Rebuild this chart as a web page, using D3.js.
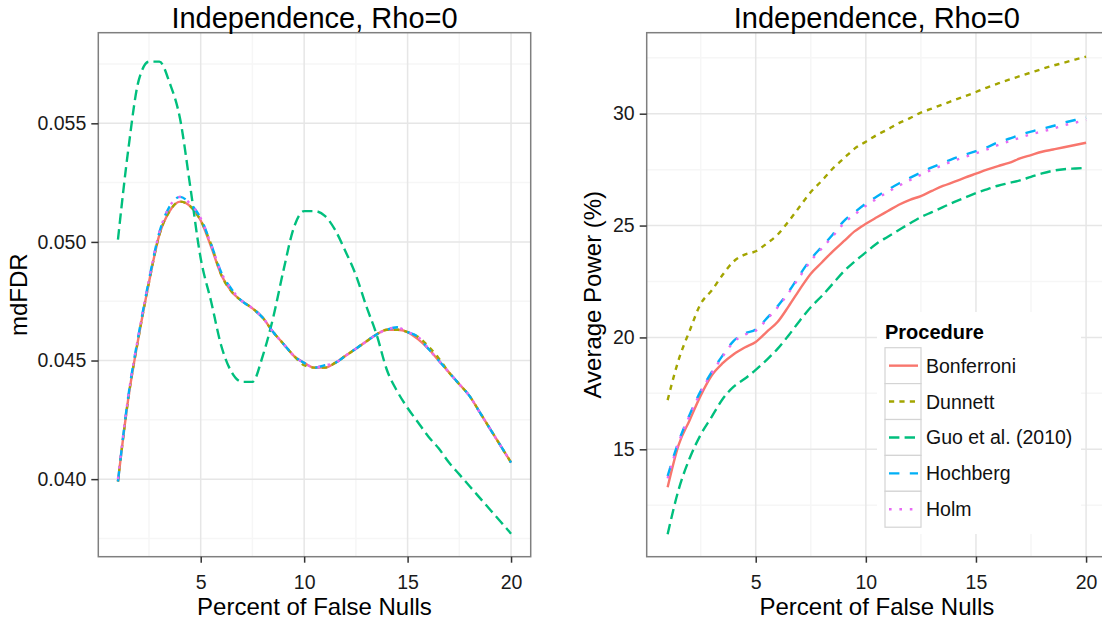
<!DOCTYPE html>
<html>
<head>
<meta charset="utf-8">
<script src="https://cdn.jsdelivr.net/npm/d3@7"></script>
<style>
  html, body { margin: 0; padding: 0; background: #fff; overflow: hidden; }
  svg { display: block; font-family: "Liberation Sans", Arial, sans-serif; }
</style>
</head>
<body>
<svg id="chart" width="1102" height="624"></svg>
<script>
// ---------- DATA ----------
const procedures = ["Bonferroni", "Dunnett", "Guo et al. (2010)", "Hochberg", "Holm"];
const pctFalseNulls = [1,1.5,2,2.5,3,3.5,4,4.5,5,5.5,6,6.5,7,7.5,8,8.5,9,9.5,10,10.5,11,11.5,12,12.5,13,13.5,14,14.5,15,15.5,16,16.5,17,17.5,18,18.5,19,19.5,20];

// Left panel: mdFDR
const mdfdrBonferroni = [0.0399,0.0434,0.0460,0.0483,0.0503,0.0513,0.0517,0.0515,0.0509,0.0498,0.0486,0.0479,0.0475,0.0472,0.0468,0.0462,0.0457,0.0452,0.0449,0.0447,0.0447,0.0449,0.0452,0.0455,0.0458,0.0461,0.0463,0.0463,0.0462,0.0459,0.0455,0.0450,0.0445,0.0440,0.0435,0.0428,0.0421,0.0414,0.0407];
const mdfdrDunnett    = [0.0399,0.0434,0.0460,0.0483,0.0503,0.0513,0.0517,0.0515,0.0509,0.0499,0.0486,0.0479,0.0475,0.0472,0.0468,0.0462,0.0457,0.0452,0.0448,0.0447,0.0447,0.0449,0.0452,0.0455,0.0458,0.0461,0.0463,0.0463,0.0462,0.0460,0.0456,0.0451,0.0445,0.0440,0.0435,0.0428,0.0421,0.0414,0.0407];
const mdfdrGuo        = [0.0501,0.0539,0.0568,0.0576,0.0576,0.0567,0.0552,0.0523,0.0493,0.0475,0.0456,0.0445,0.0441,0.0441,0.0452,0.0468,0.0488,0.0506,0.0513,0.0513,0.0511,0.0505,0.0496,0.0486,0.0473,0.0461,0.0446,0.0437,0.0430,0.0424,0.0418,0.0413,0.0407,0.0402,0.0397,0.0392,0.0387,0.0382,0.0377];
const mdfdrHochberg   = [0.0399,0.0435,0.0461,0.0484,0.0504,0.0515,0.0519,0.0516,0.0510,0.0499,0.0487,0.0480,0.0475,0.0472,0.0468,0.0462,0.0457,0.0452,0.0449,0.0447,0.0448,0.0449,0.0452,0.0455,0.0458,0.0461,0.0463,0.0464,0.0462,0.0460,0.0455,0.0450,0.0445,0.0440,0.0435,0.0428,0.0421,0.0414,0.0407];
const mdfdrHolm       = [0.0400,0.0435,0.0461,0.0484,0.0504,0.0515,0.0519,0.0516,0.0510,0.0499,0.0487,0.0480,0.0475,0.0472,0.0468,0.0462,0.0457,0.0452,0.0449,0.0447,0.0448,0.0449,0.0452,0.0455,0.0458,0.0461,0.0463,0.0464,0.0462,0.0460,0.0455,0.0450,0.0445,0.0440,0.0435,0.0428,0.0421,0.0414,0.0407];

// Right panel: Average Power (%)
const powerBonferroni = [13.3,15.2,16.3,17.4,18.3,18.85,19.25,19.55,19.8,20.25,20.7,21.4,22.15,22.85,23.35,23.85,24.3,24.75,25.08,25.37,25.65,25.93,26.15,26.32,26.55,26.77,26.95,27.14,27.32,27.5,27.66,27.8,28.0,28.15,28.3,28.4,28.5,28.6,28.7];
const powerDunnett    = [17.2,19.0,20.3,21.5,22.1,22.8,23.4,23.7,23.85,24.2,24.6,25.2,25.85,26.5,27.0,27.55,28.0,28.45,28.75,29.05,29.3,29.58,29.8,30.05,30.23,30.42,30.6,30.78,30.97,31.17,31.35,31.52,31.68,31.84,32.0,32.15,32.28,32.42,32.55];
const powerGuo        = [11.2,13.2,14.6,15.65,16.45,17.25,17.8,18.15,18.55,19.0,19.5,20.1,20.75,21.35,21.85,22.4,22.95,23.4,23.8,24.2,24.5,24.8,25.1,25.38,25.6,25.82,26.05,26.25,26.45,26.62,26.78,26.9,27.02,27.18,27.33,27.45,27.52,27.55,27.58];
const powerHochberg   = [13.8,15.35,16.55,17.6,18.45,19.2,19.85,20.18,20.35,20.85,21.4,22.05,22.8,23.5,24.05,24.6,25.2,25.6,25.98,26.3,26.6,26.88,27.13,27.37,27.6,27.8,28.0,28.17,28.33,28.5,28.72,28.88,29.05,29.2,29.33,29.45,29.6,29.72,29.82];
const powerHolm       = [13.7,15.3,16.5,17.55,18.4,19.15,19.8,20.12,20.3,20.8,21.35,22.0,22.72,23.42,23.98,24.52,25.1,25.5,25.88,26.2,26.5,26.78,27.03,27.27,27.5,27.7,27.9,28.07,28.23,28.4,28.6,28.76,28.93,29.08,29.2,29.33,29.48,29.6,29.72];

const xTicks = [5, 10, 15, 20];
const xMinor = [2.5, 7.5, 12.5, 17.5];
const leftYTicks = [0.040, 0.045, 0.050, 0.055];
const leftYMinor = [0.0375, 0.0425, 0.0475, 0.0525, 0.0575];
const rightYTicks = [15, 20, 25, 30];
const rightYMinor = [12.5, 17.5, 22.5, 27.5, 32.5];

const plotTitle = "Independence, Rho=0";
const xTitle = "Percent of False Nulls";
const leftYTitle = "mdFDR";
const rightYTitle = "Average Power (%)";
const legendTitle = "Procedure";

// ---------- STYLE ----------
const colors = d3.scaleOrdinal().domain(procedures)
  .range(["#F8766D", "#A3A500", "#00BF7D", "#00B0F6", "#E76BF3"]);
const dashes = d3.scaleOrdinal().domain(procedures)
  .range(["none", "5.2,5.2", "10.4,5.2", "10.4,10.4", "2.6,7.8"]);
const lineW = 2.4;
const tickFont = 19.5, titleFont = 29, axisTitleFont = 24;

const svg = d3.select("#chart");

function drawPanel(cfg) {
  const x = d3.scaleLinear().domain([0.05, 20.95]).range([cfg.x0, cfg.x1]);
  const y = d3.scaleLinear().domain(cfg.yDomain).range([cfg.y1, cfg.y0]);
  const g = svg.append("g");

  const clipId = "clip" + cfg.id;
  svg.append("clipPath").attr("id", clipId).append("rect")
    .attr("x", cfg.x0).attr("y", cfg.y0).attr("width", cfg.x1 - cfg.x0).attr("height", cfg.y1 - cfg.y0);

  const grid = g.append("g").attr("clip-path", `url(#${clipId})`);
  grid.selectAll(".vmin").data(xMinor).join("line")
    .attr("x1", d => x(d)).attr("x2", d => x(d)).attr("y1", cfg.y0).attr("y2", cfg.y1)
    .attr("stroke", "#f6f6f6").attr("stroke-width", 1.5);
  grid.selectAll(".hmin").data(cfg.yMinor).join("line")
    .attr("x1", cfg.x0).attr("x2", cfg.x1).attr("y1", d => y(d)).attr("y2", d => y(d))
    .attr("stroke", "#f6f6f6").attr("stroke-width", 1.5);
  grid.selectAll(".vmaj").data(xTicks).join("line")
    .attr("x1", d => x(d)).attr("x2", d => x(d)).attr("y1", cfg.y0).attr("y2", cfg.y1)
    .attr("stroke", "#e6e6e6").attr("stroke-width", 1.5);
  grid.selectAll(".hmaj").data(cfg.yTicks).join("line")
    .attr("x1", cfg.x0).attr("x2", cfg.x1).attr("y1", d => y(d)).attr("y2", d => y(d))
    .attr("stroke", "#e6e6e6").attr("stroke-width", 1.5);

  const line = d3.line().x(d => x(d[0])).y(d => y(d[1])).curve(d3.curveMonotoneX);
  const lines = g.append("g").attr("clip-path", `url(#${clipId})`);
  procedures.forEach((p, i) => {
    const pts = pctFalseNulls.map((v, j) => [v, cfg.series[i][j]]);
    lines.append("path").attr("d", line(pts))
      .attr("fill", "none").attr("stroke", colors(p)).attr("stroke-width", lineW)
      .attr("stroke-dasharray", dashes(p)).attr("stroke-linecap", "butt");
  });

  if (cfg.legend) {
    const lg = g.append("g");
    lg.append("rect").attr("x", 877).attr("y", 312).attr("width", 204).attr("height", 222)
      .attr("fill", "#fff");
    lg.append("text").attr("x", 885).attr("y", 339).text(legendTitle)
      .attr("font-weight", "bold").attr("font-size", 20).attr("fill", "#000");
    const rowH = 35.9, top = 347.7;
    procedures.forEach((p, i) => {
      const ry = top + i * rowH;
      lg.append("rect").attr("x", 885).attr("y", ry).attr("width", 36).attr("height", rowH)
        .attr("fill", "#fff").attr("stroke", "#d4d4d4").attr("stroke-width", 1.2);
      lg.append("line").attr("x1", 889).attr("x2", 918).attr("y1", ry + rowH / 2).attr("y2", ry + rowH / 2)
        .attr("stroke", colors(p)).attr("stroke-width", lineW).attr("stroke-dasharray", dashes(p));
      lg.append("text").attr("x", 926).attr("y", ry + rowH / 2 + 7).text(p)
        .attr("font-size", tickFont).attr("fill", "#111");
    });
  }

  g.append("rect").attr("x", cfg.x0).attr("y", cfg.y0).attr("width", cfg.x1 - cfg.x0).attr("height", cfg.y1 - cfg.y0)
    .attr("fill", "none").attr("stroke", "#7f7f7f").attr("stroke-width", 1.5);

  const xAxis = d3.axisBottom(x).tickValues(xTicks).tickSize(6).tickPadding(6).tickFormat(d3.format("d"));
  const xa = g.append("g").attr("transform", `translate(0,${cfg.y1})`).call(xAxis);
  const yAxis = d3.axisLeft(y).tickValues(cfg.yTicks).tickSize(7).tickPadding(5).tickFormat(cfg.yFormat);
  const ya = g.append("g").attr("transform", `translate(${cfg.x0},0)`).call(yAxis);
  [xa, ya].forEach(a => {
    a.select(".domain").remove();
    a.selectAll(".tick line").attr("stroke", "#333").attr("stroke-width", 1.5);
    a.selectAll(".tick text").attr("font-size", tickFont).attr("fill", "#1a1a1a")
      .attr("font-family", "Liberation Sans, Arial, sans-serif");
  });
  xa.selectAll(".tick text").attr("dy", null).attr("y", 32);

  const cx = (cfg.x0 + cfg.x1) / 2;
  svg.append("text").attr("x", cx).attr("y", 27.5).attr("text-anchor", "middle")
    .attr("font-size", titleFont).attr("fill", "#000").text(plotTitle);
  svg.append("text").attr("x", cx).attr("y", 615).attr("text-anchor", "middle")
    .attr("font-size", axisTitleFont).attr("fill", "#000").text(xTitle);
  svg.append("text").attr("transform", `translate(${cfg.yTitleX},${(cfg.y0 + cfg.y1) / 2}) rotate(-90)`)
    .attr("text-anchor", "middle").attr("font-size", axisTitleFont).attr("fill", "#000").text(cfg.yTitle);
}

drawPanel({
  id: "L", x0: 98.3, x1: 530.7, y0: 32.7, y1: 556.7,
  yDomain: [0.03673, 0.05882], yTicks: leftYTicks, yMinor: leftYMinor,
  yFormat: d3.format(".3f"), yTitle: leftYTitle, yTitleX: 27,
  series: [mdfdrBonferroni, mdfdrDunnett, mdfdrGuo, mdfdrHochberg, mdfdrHolm],
  legend: false
});
drawPanel({
  id: "R", x0: 646.7, x1: 1107, y0: 32.7, y1: 556.7,
  yDomain: [10.2, 33.62], yTicks: rightYTicks, yMinor: rightYMinor,
  yFormat: d3.format("d"), yTitle: rightYTitle, yTitleX: 601,
  series: [powerBonferroni, powerDunnett, powerGuo, powerHochberg, powerHolm],
  legend: true
});
</script>
</body>
</html>
